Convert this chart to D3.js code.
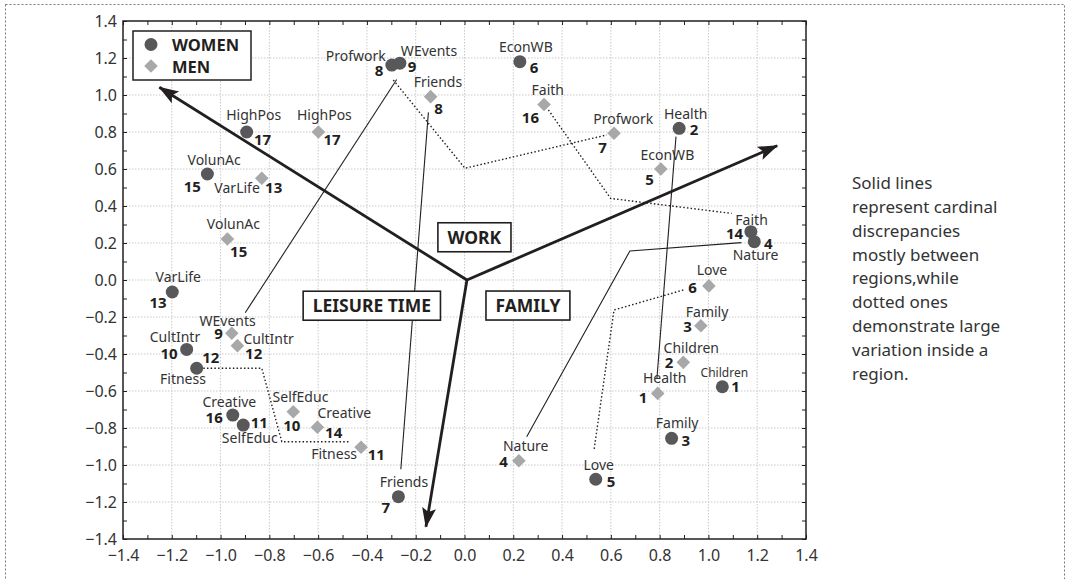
<!DOCTYPE html>
<html>
<head>
<meta charset="utf-8">
<script src="https://cdn.jsdelivr.net/npm/d3@7"></script>
<style>
  body { margin: 0; background: #fff; }
  svg { display: block; font-family: "Noto Sans", "DejaVu Sans", sans-serif; }
</style>
</head>
<body>
<div id="chart"></div>
<script>
// rank, item, x, y
var women = [
	[1, "Children", 1.057, -0.577],
	[2, "Health", 0.880, 0.820],
	[3, "Family", 0.849, -0.856],
	[4, "Nature", 1.188, 0.207],
	[5, "Love", 0.538, -1.077],
	[6, "EconWB", 0.227, 1.180],
	[7, "Friends", -0.271, -1.171],
	[8, "Profwork", -0.298, 1.162],
	[9, "WEvents", -0.265, 1.172],
	[10, "CultIntr", -1.139, -0.375],
	[11, "SelfEduc", -0.907, -0.784],
	[12, "Fitness", -1.098, -0.477],
	[13, "VarLife", -1.198, -0.065],
	[14, "Faith", 1.174, 0.261],
	[15, "VolunAc", -1.054, 0.573],
	[16, "Creative", -0.950, -0.730],
	[17, "HighPos", -0.893, 0.800]
];
var men = [
	[1, "Health", 0.792, -0.613],
	[2, "Children", 0.897, -0.445],
	[3, "Family", 0.969, -0.247],
	[4, "Nature", 0.223, -0.977],
	[5, "EconWB", 0.805, 0.600],
	[6, "Love", 1.002, -0.032],
	[7, "Profwork", 0.613, 0.793],
	[8, "Friends", -0.139, 0.991],
	[9, "WEvents", -0.954, -0.288],
	[10, "SelfEduc", -0.702, -0.712],
	[11, "Fitness", -0.424, -0.904],
	[12, "CultIntr", -0.931, -0.355],
	[13, "VarLife", -0.831, 0.550],
	[14, "Creative", -0.603, -0.796],
	[15, "VolunAc", -0.972, 0.222],
	[16, "Faith", 0.326, 0.949],
	[17, "HighPos", -0.599, 0.800]
];

// solid = discrepancies between regions, dotted = variation inside a region
var solidLines = [
	[[-0.278, 1.084], [-0.899, -0.177]],
	[[-0.148, 0.906], [-0.261, -1.023]],
	[[0.867, 0.775], [0.789, -0.530]],
	[[1.135, 0.202], [0.678, 0.157], [0.255, -0.847]]
];
var dottedLines = [
	[[-0.292, 1.081], [0.002, 0.604], [0.583, 0.784]],
	[[0.344, 0.919], [0.599, 0.441], [1.095, 0.360]],
	[[0.897, -0.054], [0.613, -0.162], [0.531, -0.919]],
	[[-1.071, -0.477], [-0.831, -0.477], [-0.749, -0.874], [-0.469, -0.874]]
];

var origin = [0.01, 0];
var regionTips = [[-1.251, 1.042], [1.282, 0.726], [-0.158, -1.334]];
var regionNames = ["WORK", "FAMILY", "LEISURE TIME"];
var regionAt = [[0.04, 0.231], [0.26, -0.138], [-0.38, -0.139]];

var tickValues = d3.range(-14, 15).map(function(i) { return i / 10; });
var gridValues = d3.range(-6, 7).map(function(i) { return i / 5; });

var note = ["Solid lines", "represent cardinal", "discrepancies", "mostly between",
	"regions,while", "dotted ones", "demonstrate large", "variation inside a", "region."];

// label placement per point: [name anchor, dx, dy, number anchor, dx, dy]
var womenLabels = {
	1: ["middle", 2, -10, "start", 9, 5],
	2: ["middle", 6.5, -9, "start", 10.5, 6.7],
	3: ["middle", 5.5, -10, "start", 10, 7.7],
	4: ["middle", 1.2, 18.3, "start", 9.7, 7.6],
	5: ["middle", 3, -9.3, "start", 11, 7.4],
	6: ["middle", 6, -9.4, "start", 10, 11],
	7: ["middle", 5.5, -10, "end", -8.3, 16.6],
	8: ["end", -6, -4, "middle", -12.7, 11],
	9: ["start", 1, -7, "start", 8, 8.7],
	10: ["middle", -11.7, -7.6, "end", -9, 9.7],
	11: ["middle", 6.5, 18.3, "start", 7.4, 3.3],
	12: ["middle", -13.7, 15.7, "start", 5.6, -5],
	13: ["middle", 6, -9.7, "end", -5.6, 15.7],
	14: ["middle", 0.7, -6.7, "end", -7.7, 7.6],
	15: ["middle", 6.7, -9, "end", -6.6, 17.7],
	16: ["middle", -3.4, -8.3, "end", -10, 8.3],
	17: ["middle", 7, -12.4, "start", 7.3, 13.3]
};
var menLabels = {
	1: ["middle", 7, -10, "end", -10.4, 10],
	2: ["middle", 8, -9.6, "end", -10, 6],
	3: ["middle", 6.2, -8.4, "end", -9, 6.6],
	4: ["middle", 6.8, -10, "end", -11, 6.6],
	5: ["middle", 6.5, -9, "end", -7, 16],
	6: ["middle", 3, -11, "end", -12, 7.3],
	7: ["middle", 9.3, -9.3, "end", -7.3, 20],
	8: ["middle", 7.3, -9.4, "start", 3.6, 17.6],
	9: ["middle", -4.2, -7.3, "end", -9, 6],
	10: ["middle", 7.2, -10, "start", -10, 19.3],
	11: ["end", -4, 12, "start", 6.7, 12.7],
	12: ["start", 6, -1.4, "start", 7.7, 13.6],
	13: ["end", -2, 15, "start", 3.3, 15],
	14: ["start", 0, -9, "start", 7.7, 11],
	15: ["middle", 6, -10, "start", 2.7, 18.3],
	16: ["middle", 3.7, -9.3, "end", -5, 19],
	17: ["middle", 6, -12.4, "start", 5, 13.3]
};

var W = 1067, H = 579;
var margin = {left: 123, top: 21, right: 261, bottom: 40};
var pw = W - margin.left - margin.right, ph = H - margin.top - margin.bottom;

var womenColor = "#58585a", menColor = "#a7a8aa", ink = "#231f20";

var svg = d3.select("#chart").append("svg")
	.attr("width", W).attr("height", H);

svg.append("rect")
	.attr("x", 5.5).attr("y", 4.5).attr("width", 1059).attr("height", 600)
	.attr("fill", "none").attr("stroke", "#777").attr("stroke-width", 1)
	.attr("stroke-dasharray", "2,2");

var x = d3.scaleLinear().domain([-1.4, 1.4]).range([0, pw]);
var y = d3.scaleLinear().domain([-1.4, 1.4]).range([ph, 0]);

var g = svg.append("g").attr("transform", "translate(" + margin.left + "," + margin.top + ")");

// grid
g.append("g").selectAll("line").data(gridValues).enter().append("line")
	.attr("x1", function(d) { return x(d); }).attr("x2", function(d) { return x(d); })
	.attr("y1", 0).attr("y2", ph)
	.attr("stroke", "#c9c9c9").attr("stroke-dasharray", "1.5,1.5");
g.append("g").selectAll("line").data(gridValues).enter().append("line")
	.attr("y1", function(d) { return y(d); }).attr("y2", function(d) { return y(d); })
	.attr("x1", 0).attr("x2", pw)
	.attr("stroke", "#c9c9c9").attr("stroke-dasharray", "1.5,1.5");

// axes, ticks pointing inward
var fmt = d3.format(".1f");
function label(d, i) { return i % 2 === 0 ? fmt(d) : ""; }

function styleAxis(sel) {
	sel.select(".domain").remove();
	sel.selectAll(".tick line").attr("stroke", ink).attr("stroke-width", 1);
	sel.selectAll("text").attr("fill", "#333").style("font-size", "16px")
		.style("font-family", "\"Noto Sans\", sans-serif");
}

g.append("g").attr("transform", "translate(0," + ph + ")")
	.call(d3.axisBottom(x).tickValues(tickValues).tickFormat(label)
		.tickSizeInner(-4).tickSizeOuter(0).tickPadding(10.5))
	.call(styleAxis);
g.append("g")
	.call(d3.axisLeft(y).tickValues(tickValues).tickFormat(label)
		.tickSizeInner(-4).tickSizeOuter(0).tickPadding(6))
	.call(styleAxis);
g.append("g")
	.call(d3.axisTop(x).tickValues(tickValues).tickFormat("")
		.tickSizeInner(-4).tickSizeOuter(0))
	.call(styleAxis);
g.append("g").attr("transform", "translate(" + pw + ",0)")
	.call(d3.axisRight(y).tickValues(tickValues).tickFormat("")
		.tickSizeInner(-4).tickSizeOuter(0))
	.call(styleAxis);

g.append("rect").attr("width", pw).attr("height", ph)
	.attr("fill", "none").attr("stroke", ink).attr("stroke-width", 1.5);

// connector lines
var line = d3.line().x(function(d) { return x(d[0]); }).y(function(d) { return y(d[1]); });

g.append("g").selectAll("path").data(solidLines).enter().append("path")
	.attr("d", line).attr("fill", "none").attr("stroke", ink).attr("stroke-width", 1.1);
g.append("g").selectAll("path").data(dottedLines).enter().append("path")
	.attr("d", line).attr("fill", "none").attr("stroke", ink).attr("stroke-width", 1.4)
	.attr("stroke-dasharray", "1.5,2.2");

// region arrows
svg.append("defs").append("marker")
	.attr("id", "head").attr("markerUnits", "userSpaceOnUse")
	.attr("viewBox", "0 -8 20 16").attr("refX", 19).attr("refY", 0)
	.attr("markerWidth", 20).attr("markerHeight", 16).attr("orient", "auto")
	.append("path").attr("d", "M0,-7L20,0L0,7L4,0Z").attr("fill", ink);

g.append("g").selectAll("line").data(regionTips).enter().append("line")
	.attr("x1", x(origin[0])).attr("y1", y(origin[1]))
	.attr("x2", function(d) { return x(d[0]); }).attr("y2", function(d) { return y(d[1]); })
	.attr("stroke", ink).attr("stroke-width", 2.8)
	.attr("marker-end", "url(#head)");

// region boxes
var regions = g.append("g").selectAll("g").data(regionNames).enter().append("g")
	.attr("transform", function(d, i) {
		return "translate(" + x(regionAt[i][0]) + "," + y(regionAt[i][1]) + ")";
	});
regions.append("rect");
regions.append("text")
	.attr("text-anchor", "middle").attr("dy", "0.36em")
	.attr("font-weight", 700).attr("font-size", "17.5px").attr("fill", ink)
	.text(function(d) { return d; });
regions.each(function() {
	var gg = d3.select(this);
	var b = gg.select("text").node().getBBox();
	gg.select("rect")
		.attr("x", b.x - 9.5).attr("width", b.width + 19)
		.attr("y", -14.5).attr("height", 29)
		.attr("fill", "#fff").attr("stroke", ink).attr("stroke-width", 1.6);
});

// points
var diamond = "M0,-6.8L6.8,0L0,6.8L-6.8,0Z";

g.append("g").selectAll("path").data(men).enter().append("path")
	.attr("d", diamond)
	.attr("transform", function(d) { return "translate(" + x(d[2]) + "," + y(d[3]) + ")"; })
	.attr("fill", menColor);

g.append("g").selectAll("circle").data(women).enter().append("circle")
	.attr("cx", function(d) { return x(d[2]); })
	.attr("cy", function(d) { return y(d[3]); })
	.attr("r", 6.5).attr("fill", womenColor);

// point labels
function drawLabels(data, layout, small) {
	var lab = g.append("g").selectAll("g").data(data).enter().append("g")
		.attr("transform", function(d) { return "translate(" + x(d[2]) + "," + y(d[3]) + ")"; });
	lab.append("text")
		.attr("text-anchor", function(d) { return layout[d[0]][0]; })
		.attr("x", function(d) { return layout[d[0]][1]; })
		.attr("y", function(d) { return layout[d[0]][2]; })
		.attr("font-size", function(d) { return small && d[1] === "Children" ? "12px" : "14px"; })
		.attr("fill", "#333")
		.text(function(d) { return d[1]; });
	lab.append("text")
		.attr("text-anchor", function(d) { return layout[d[0]][3]; })
		.attr("x", function(d) { return layout[d[0]][4]; })
		.attr("y", function(d) { return layout[d[0]][5]; })
		.attr("font-size", "15px").attr("font-weight", 700)
		.attr("fill", ink)
		.text(function(d) { return d[0]; });
}
drawLabels(men, menLabels, false);
drawLabels(women, womenLabels, true);

// legend
var legend = g.append("g").attr("transform", "translate(10,10)");
legend.append("rect").attr("width", 118).attr("height", 49)
	.attr("fill", "#fff").attr("stroke", ink).attr("stroke-width", 1.5);
legend.append("circle").attr("cx", 18).attr("cy", 13.5).attr("r", 6.5).attr("fill", womenColor);
legend.append("path").attr("d", diamond).attr("transform", "translate(18,35)").attr("fill", menColor);
legend.append("text").attr("x", 39).attr("y", 19.5)
	.attr("font-size", "16.5px").attr("font-weight", 700).attr("fill", ink).text("WOMEN");
legend.append("text").attr("x", 39).attr("y", 41.5)
	.attr("font-size", "16.5px").attr("font-weight", 700).attr("fill", ink).text("MEN");

// side note
svg.append("g").selectAll("text").data(note).enter().append("text")
	.attr("x", 852).attr("y", function(d, i) { return 189 + i * 23.85; })
	.attr("font-size", "17px").attr("fill", "#333")
	.text(function(d) { return d; });
</script>
</body>
</html>
